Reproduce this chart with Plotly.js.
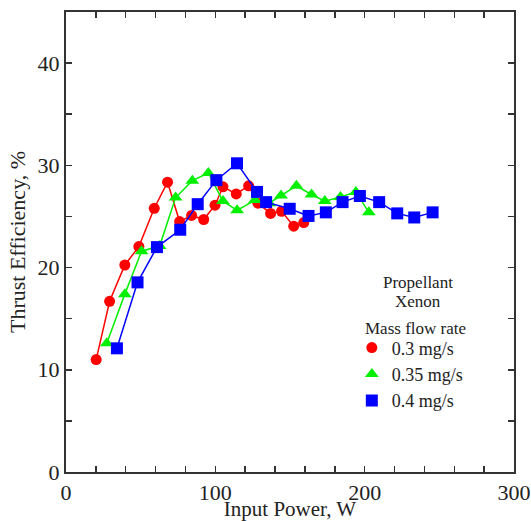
<!DOCTYPE html>
<html>
<head>
<meta charset="utf-8">
<script src="https://cdn.plot.ly/plotly-3.0.1.min.js"></script>
<style>html,body{margin:0;padding:0;background:#fff;}#chart{width:531px;height:521px;}</style>
</head>
<body>
<div id="chart"></div>
<script>
// Series: 0.3 mg/s
const powerA = [20.2, 29.2, 39.4, 48.8, 59.1, 68.0, 76.1, 84.1, 92.2, 99.8, 105.1, 114.0, 122.3, 128.5, 137.0, 144.3, 152.5, 159.2];
const effA   = [11.0, 16.7, 20.25, 22.05, 25.8, 28.35, 24.5, 25.1, 24.7, 26.1, 27.9, 27.2, 28.0, 26.3, 25.3, 25.5, 24.05, 24.4];
// Series: 0.35 mg/s
const powerB = [27.3, 39.4, 50.6, 62.7, 73.4, 84.6, 95.3, 105.1, 114.6, 126.5, 136.0, 144.0, 154.3, 164.4, 173.3, 183.8, 194.1, 202.8];
const effB   = [12.6, 17.4, 21.6, 22.1, 26.85, 28.5, 29.25, 26.5, 25.6, 26.6, 26.3, 27.05, 28.0, 27.15, 26.5, 26.9, 27.4, 25.4];
// Series: 0.4 mg/s
const powerC = [34.1, 47.9, 60.9, 76.5, 88.2, 100.7, 114.5, 127.9, 134.0, 149.8, 162.4, 174.0, 185.2, 196.8, 209.7, 221.8, 233.2, 245.5];
const effC   = [12.1, 18.55, 22.0, 23.7, 26.2, 28.55, 30.2, 27.4, 26.4, 25.75, 25.05, 25.4, 26.4, 27.0, 26.4, 25.3, 24.9, 25.4];

const seriesNames = ['0.3 mg/s', '0.35 mg/s', '0.4 mg/s'];
const seriesColors = ['#ff0000', '#00f000', '#0000ff'];
const seriesSymbols = ['circle', 'triangle-up', 'square'];
const seriesSizes = [11, 12, 12];
const legendHeader = ['Propellant', 'Xenon', 'Mass flow rate'];

const FONT = 'Times New Roman';

const xs = [powerA, powerB, powerC];
const ys = [effA, effB, effC];

const traces = [];
for (let i = 0; i < 3; i++) {
  traces.push({x: xs[i], y: ys[i], name: seriesNames[i], mode: 'lines+markers', showlegend: false,
    line: {color: seriesColors[i], width: 1.5},
    marker: {symbol: seriesSymbols[i], size: seriesSizes[i], color: seriesColors[i]}});
}
for (let i = 0; i < 3; i++) {
  traces.push({x: [null], y: [null], name: seriesNames[i], mode: 'markers', showlegend: true,
    marker: {symbol: seriesSymbols[i], size: seriesSizes[i], color: seriesColors[i]}});
}

const axisCommon = {
  showgrid: false, zeroline: false, showline: true, linecolor: '#333', linewidth: 2,
  mirror: 'ticks', ticks: 'inside', ticklen: 6, tickwidth: 1.5, tickcolor: '#333',
  tickfont: {family: FONT, size: 22, color: '#222'},
  minor: {ticks: 'inside', ticklen: 6, tickwidth: 1.5, tickcolor: '#333', showgrid: false}
};

const layout = {
  width: 531, height: 521,
  margin: {l: 66, r: 17, t: 12, b: 49},
  paper_bgcolor: '#fff', plot_bgcolor: '#fff',
  font: {family: FONT, color: '#222'},
  showlegend: true,
  legend: {
    x: 0.638, y: 0.31, xanchor: 'left', yanchor: 'top',
    bgcolor: 'rgba(0,0,0,0)', borderwidth: 0,
    font: {family: FONT, size: 18, color: '#222'},
    itemwidth: 30,
    itemclick: false
  },
  xaxis: Object.assign({}, axisCommon, {
    range: [0, 300], dtick: 100, tick0: 0,
    minor: Object.assign({}, axisCommon.minor, {dtick: 20}),
    title: {text: 'Input Power, W', font: {family: FONT, size: 21, color: '#222'}, standoff: 0}
  }),
  yaxis: Object.assign({}, axisCommon, {
    range: [0, 45], dtick: 10, tick0: 0,
    minor: Object.assign({}, axisCommon.minor, {dtick: 5}),
    title: {text: 'Thrust Efficiency, %', font: {family: FONT, size: 22, color: '#222'}, standoff: 6}
  }),
  annotations: [
    {x: 0.786, y: 0.413, xref: 'paper', yref: 'paper', text: legendHeader[0], showarrow: false,
     xanchor: 'center', yanchor: 'middle', font: {family: FONT, size: 17, color: '#222'}},
    {x: 0.786, y: 0.37, xref: 'paper', yref: 'paper', text: legendHeader[1], showarrow: false,
     xanchor: 'center', yanchor: 'middle', font: {family: FONT, size: 17, color: '#222'}},
    {x: 0.781, y: 0.313, xref: 'paper', yref: 'paper', text: legendHeader[2], showarrow: false,
     xanchor: 'center', yanchor: 'middle', font: {family: FONT, size: 17, color: '#222'}}
  ]
};

Plotly.newPlot('chart', traces, layout, {displayModeBar: false, staticPlot: true});
</script>
</body>
</html>
